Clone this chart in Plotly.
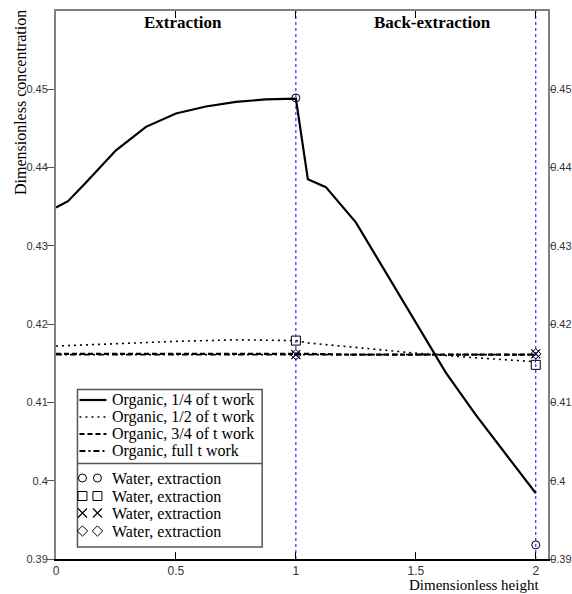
import plotly.graph_objects as go

# ---------------- data ----------------
x_q1 = [0, 0.05, 0.125, 0.25, 0.375, 0.5, 0.625, 0.75, 0.875, 1.0,
        1.05, 1.125, 1.25, 1.375, 1.5, 1.625, 1.75, 1.875, 1.98, 2.0]
org_q1 = [0.4349, 0.4357, 0.4381, 0.4422, 0.4452, 0.4469, 0.4478, 0.4484, 0.4487, 0.4488,
          0.4385, 0.4375, 0.4330, 0.4266, 0.4202, 0.4138, 0.4084, 0.4034, 0.3993, 0.3984]

x_grid = [0, 0.25, 0.5, 0.75, 1.0, 1.05, 1.25, 1.5, 1.75, 2.0]
org_q2 = [0.4172, 0.4175, 0.4178, 0.4180, 0.4179, 0.4176, 0.4170, 0.4163, 0.4157, 0.4152]
org_q3 = [0.4162, 0.4162, 0.4162, 0.4162, 0.4162, 0.4162, 0.4161, 0.4161, 0.4161, 0.4161]
org_full = [0.4161, 0.4161, 0.4161, 0.4161, 0.4161, 0.4161, 0.4161, 0.4161, 0.4161, 0.4161]

x_water = [1, 2]
water_circle = [0.4489, 0.3918]
water_square = [0.4179, 0.4148]
water_x = [0.4161, 0.4162]
water_diamond = [0.4161, 0.4162]

boundaries = [1, 2]

y_ticks = [0.39, 0.40, 0.41, 0.42, 0.43, 0.44, 0.45]
y_ticktext = ["0.39", "0.4", "0.41", "0.42", "0.43", "0.44", "0.45"]
x_ticks = [0, 0.5, 1, 1.5, 2]
x_ticktext = ["0", "0.5", "1", "1.5", "2"]

line_labels = ["Organic, 1/4 of t work", "Organic, 1/2 of t work",
               "Organic, 3/4 of t work", "Organic, full t work"]
marker_labels = ["Water, extraction", "Water, extraction",
                 "Water, extraction", "Water, extraction"]

# ---------------- layout geometry ----------------
W, H = 572, 594
L, R, T, B = 55.5, 548.3, 11, 559
SERIF = "Liberation Serif"
SANS = "Liberation Sans Narrow, Liberation Sans, Arial"


def px_x(p):
    return (p - L) / (R - L)


def px_y(p):
    return (B - p) / (B - T)


fig = go.Figure()

line_styles = [
    dict(color="black", width=2.2, dash="solid"),
    dict(color="black", width=1.6, dash="2px,4px"),
    dict(color="black", width=2.2, dash="5px,3px"),
    dict(color="black", width=1.8, dash="6px,3px,2px,3px"),
]
series = [(x_q1, org_q1), (x_grid, org_q2), (x_grid, org_q3), (x_grid, org_full)]
for (xs, ys), st, lab in zip(series, line_styles, line_labels):
    fig.add_trace(go.Scatter(x=xs, y=ys, mode="lines", line=st, name=lab,
                             showlegend=False, hoverinfo="skip"))

marker_styles = [
    dict(symbol="circle-open", size=8, color="black", line=dict(width=1, color="black")),
    dict(symbol="square-open", size=9, color="black", line=dict(width=1, color="black")),
    dict(symbol="x-thin-open", size=9, color="black", line=dict(width=1.2, color="black")),
    dict(symbol="diamond-open", size=8, color="black", line=dict(width=1, color="black")),
]
for ys, ms, lab in zip([water_circle, water_square, water_x, water_diamond], marker_styles, marker_labels):
    fig.add_trace(go.Scatter(x=x_water, y=ys, mode="markers", marker=ms, name=lab,
                             showlegend=False, hoverinfo="skip"))

# blue dashed boundaries on secondary axes (x2/y2)
for b in boundaries:
    fig.add_trace(go.Scatter(x=[b, b], y=[0.39, 0.46], xaxis="x2", yaxis="y2", mode="lines",
                             line=dict(color="#0000ff", width=1, dash="3px,3px"),
                             showlegend=False, hoverinfo="skip"))

# ---------------- custom legend (pixel helper axes x3/y3) ----------------
box_l, box_r, box_t, box_b, div_y = 77, 262, 389.5, 547, 463.5
fig.add_shape(type="rect", xref="x3", yref="y3", x0=box_l, x1=box_r, y0=box_t, y1=box_b,
              line=dict(color="#555555", width=1.5), fillcolor="white", layer="below")
fig.add_shape(type="line", xref="x3", yref="y3", x0=box_l, x1=box_r, y0=div_y, y1=div_y,
              line=dict(color="#555555", width=1.5), layer="below")
line_rows = [400, 417, 434, 451]
marker_rows = [478, 496, 513, 531]
for yy, st, lab in zip(line_rows, line_styles, line_labels):
    fig.add_trace(go.Scatter(x=[79, 106], y=[yy, yy], xaxis="x3", yaxis="y3", mode="lines",
                             line=st, showlegend=False, hoverinfo="skip"))
    fig.add_annotation(x=110, y=yy, xref="x3", yref="y3", text=lab, showarrow=False,
                       xanchor="left", yanchor="middle", font=dict(family=SERIF, size=16, color="black"))
for yy, ms, lab in zip(marker_rows, marker_styles, marker_labels):
    fig.add_trace(go.Scatter(x=[82, 97], y=[yy, yy], xaxis="x3", yaxis="y3", mode="markers",
                             marker=ms, showlegend=False, hoverinfo="skip"))
    fig.add_annotation(x=110, y=yy, xref="x3", yref="y3", text=lab, showarrow=False,
                       xanchor="left", yanchor="middle", font=dict(family=SERIF, size=16, color="black"))

# ---------------- texts ----------------
fig.add_annotation(x=0.53, y=0.4585, xref="x", yref="y", text="<b>Extraction</b>", showarrow=False,
                   xanchor="center", yanchor="middle", font=dict(family=SERIF, size=17, color="black"))
fig.add_annotation(x=1.57, y=0.4585, xref="x", yref="y", text="<b>Back-extraction</b>", showarrow=False,
                   xanchor="center", yanchor="middle", font=dict(family=SERIF, size=17, color="black"))
fig.add_annotation(x=px_x(20), y=px_y(8), xref="paper", yref="paper", text="Dimensionless concentration",
                   showarrow=False, textangle=-90, xanchor="center", yanchor="top",
                   font=dict(family=SERIF, size=16, color="black"))
fig.add_annotation(x=px_x(541), y=px_y(585), xref="paper", yref="paper", text="Dimensionless height",
                   showarrow=False, xanchor="right", yanchor="middle",
                   font=dict(family=SERIF, size=15, color="black"))

tickfont = dict(family=SANS, size=11, color="#333333")
fig.update_layout(
    width=W, height=H,
    margin=dict(l=L, r=W - R, t=T, b=H - B, pad=0),
    paper_bgcolor="white", plot_bgcolor="white",
    xaxis=dict(range=[0, 2.051], tickvals=x_ticks, ticktext=x_ticktext, ticks="inside", ticklen=7,
               tickcolor="black", tickwidth=1, showgrid=False, zeroline=False, showline=True,
               linecolor="black", linewidth=2, tickfont=dict(family=SANS, size=12, color="#333333"),
               automargin=False),
    yaxis=dict(range=[0.39, 0.46], tickvals=y_ticks, ticktext=y_ticktext, ticks="outside", ticklen=7,
               tickcolor="#555555", tickwidth=1, showgrid=False, zeroline=False, showline=True,
               linecolor="#808080", linewidth=2, tickfont=tickfont, automargin=False,
               ticklabelstandoff=-3),
    xaxis2=dict(range=[0, 2.051], overlaying="x", side="top", tickvals=x_ticks[1:], ticks="inside",
                ticklen=7, tickcolor="black", showticklabels=False, showgrid=False, zeroline=False,
                showline=True, linecolor="#808080", linewidth=2, automargin=False),
    yaxis2=dict(range=[0.39, 0.46], overlaying="y", side="right", tickvals=y_ticks, ticktext=y_ticktext,
                ticks="outside", ticklen=5, tickcolor="#555555", showgrid=False, zeroline=False,
                showline=True, linecolor="#808080", linewidth=2, tickfont=tickfont, automargin=False,
                ticklabelstandoff=-7),
    xaxis3=dict(range=[L, R], overlaying="x", visible=False),
    yaxis3=dict(range=[B, T], overlaying="y", visible=False),
)

fig.write_html("out.html", config={"displayModeBar": False},
               post_script="document.body.style.margin='0';document.body.style.padding='0';")
